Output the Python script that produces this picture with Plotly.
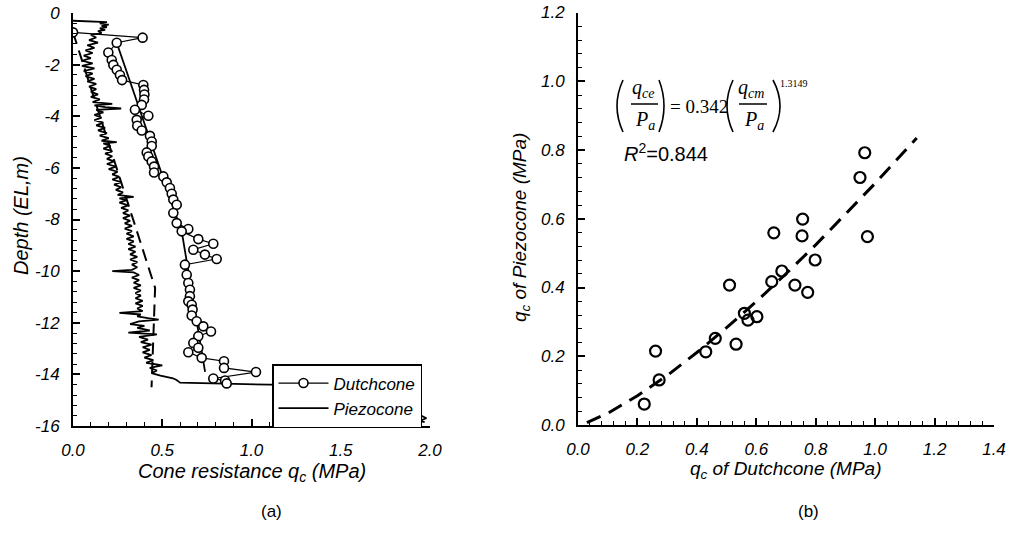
import plotly.graph_objects as go

W, H = 1011, 534

# ---------------- data: panel (a) ----------------
dutch_q = [0.00, 0.39, 0.245, 0.198, 0.217, 0.226, 0.245, 0.263, 0.275, 0.394, 0.398, 0.40, 0.398, 0.385,
           0.347, 0.422, 0.357, 0.36, 0.385, 0.431, 0.441, 0.441, 0.413, 0.422, 0.441, 0.454, 0.454, 0.506,
           0.525, 0.543, 0.553, 0.562, 0.581, 0.562, 0.581, 0.646, 0.609, 0.702, 0.786, 0.674, 0.739, 0.805,
           0.627, 0.637, 0.646, 0.655, 0.655, 0.646, 0.665, 0.67, 0.665, 0.693, 0.73, 0.773, 0.702, 0.674,
           0.702, 0.646, 0.721, 0.846, 0.846, 1.025, 0.786, 0.852, 0.861]
dutch_depth = [-0.75, -0.955, -1.15, -1.53, -1.82, -2.01, -2.2, -2.4, -2.6, -2.79, -2.98, -3.16, -3.35, -3.56,
               -3.75, -3.98, -4.14, -4.37, -4.55, -4.76, -4.98, -5.15, -5.40, -5.56, -5.75, -5.95, -6.18, -6.33,
               -6.56, -6.78, -7.0, -7.23, -7.43, -7.75, -8.14, -8.37, -8.46, -8.76, -8.94, -9.17, -9.36, -9.53,
               -9.75, -10.14, -10.46, -10.72, -10.97, -11.17, -11.3, -11.49, -11.72, -11.94, -12.14, -12.34, -12.52, -12.78,
               -12.97, -13.14, -13.36, -13.49, -13.75, -13.91, -14.16, -14.24, -14.35]

piezo_depth = [-0.30, -0.35, -0.40, -0.45, -0.50, -0.55, -0.60, -0.65, -0.70, -0.78, -0.85, -0.95, -1.05, -1.15,
               -1.25, -1.35, -1.45, -1.55, -1.65, -1.75, -1.85, -1.95, -2.05, -2.15, -2.25, -2.35, -2.45, -2.55,
               -2.65, -2.75, -2.85, -2.95, -3.05, -3.15, -3.25, -3.35, -3.45, -3.52, -3.58, -3.65, -3.70, -3.75,
               -3.85, -3.95, -4.05, -4.15, -4.25, -4.35, -4.45, -4.55, -4.65, -4.75, -4.85, -4.95, -5.00, -5.05,
               -5.15, -5.25, -5.35, -5.45, -5.55, -5.65, -5.75, -5.85, -5.95, -6.05, -6.15, -6.25, -6.35, -6.45,
               -6.55, -6.65, -6.75, -6.85, -6.95, -7.05, -7.12, -7.18, -7.25, -7.35, -7.45, -7.55, -7.65, -7.75,
               -7.85, -7.95, -8.05, -8.15, -8.25, -8.35, -8.45, -8.55, -8.65, -8.75, -8.85, -8.95, -9.05, -9.15,
               -9.25, -9.35, -9.45, -9.55, -9.65, -9.75, -9.85, -9.95, -10.00, -10.05, -10.15, -10.25, -10.35,
               -10.45, -10.55, -10.65, -10.75, -10.85, -10.95, -11.05, -11.15, -11.25, -11.35, -11.45, -11.55,
               -11.62, -11.68, -11.75, -11.82, -11.88, -11.95, -12.05, -12.12, -12.20, -12.30, -12.38, -12.45,
               -12.55, -12.65, -12.75, -12.85, -12.95, -13.05, -13.15, -13.25, -13.35, -13.45, -13.55, -13.65,
               -13.75, -13.85, -13.95, -14.05, -14.15, -14.22, -14.32, -14.40, -14.45, -15.00, -15.60, -15.70,
               -15.80, -15.85]
piezo_q = [0.00, 0.19, 0.15, 0.20, 0.16, 0.19, 0.15, 0.18, 0.14, 0.16, 0.10, 0.13, 0.09, 0.14,
           0.08, 0.12, 0.07, 0.11, 0.06, 0.10, 0.05, 0.11, 0.05, 0.12, 0.06, 0.11, 0.07, 0.12,
           0.08, 0.13, 0.09, 0.13, 0.10, 0.14, 0.10, 0.15, 0.11, 0.22, 0.12, 0.18, 0.27, 0.13,
           0.17, 0.12, 0.16, 0.12, 0.17, 0.13, 0.18, 0.14, 0.19, 0.15, 0.20, 0.16, 0.245, 0.17,
           0.21, 0.17, 0.22, 0.18, 0.22, 0.19, 0.23, 0.19, 0.24, 0.20, 0.25, 0.22, 0.26, 0.22,
           0.27, 0.23, 0.27, 0.24, 0.28, 0.25, 0.34, 0.26, 0.30, 0.26, 0.31, 0.27, 0.31, 0.28,
           0.32, 0.28, 0.32, 0.29, 0.33, 0.29, 0.33, 0.30, 0.34, 0.30, 0.34, 0.31, 0.35, 0.31,
           0.35, 0.32, 0.36, 0.32, 0.36, 0.33, 0.36, 0.33, 0.22, 0.34, 0.37, 0.33, 0.37,
           0.34, 0.38, 0.34, 0.38, 0.35, 0.38, 0.35, 0.39, 0.35, 0.39, 0.36, 0.39,
           0.26, 0.38, 0.36, 0.42, 0.48, 0.37, 0.32, 0.40, 0.36, 0.43, 0.31, 0.47,
           0.37, 0.42, 0.38, 0.44, 0.39, 0.43, 0.39, 0.44, 0.40, 0.45, 0.41, 0.50,
           0.43, 0.47, 0.44, 0.49, 0.56, 0.58, 0.60, 1.10, 1.90, 1.92, 1.95, 1.98,
           1.94, 1.97]

piezo_trend_q = [0.00, 0.46, 0.44]
piezo_trend_depth = [-0.75, -10.65, -14.5]
dutch_trend_q = [0.245, 0.61, 0.74]
dutch_trend_depth = [-1.15, -8.5, -13.9]

a_xticks = [0.0, 0.5, 1.0, 1.5, 2.0]
a_xticklabels = ["0.0", "0.5", "1.0", "1.5", "2.0"]
a_yticks = [0, -2, -4, -6, -8, -10, -12, -14, -16]
a_yticklabels = ["0", "-2", "-4", "-6", "-8", "-10", "-12", "-14", "-16"]

# ---------------- data: panel (b) ----------------
qc_dutch = [0.223, 0.261, 0.273, 0.430, 0.462, 0.510, 0.532, 0.560, 0.572, 0.602, 0.652,
            0.659, 0.686, 0.730, 0.754, 0.756, 0.773, 0.798, 0.949, 0.965, 0.974]
qc_piezo = [0.061, 0.215, 0.131, 0.213, 0.252, 0.407, 0.235, 0.325, 0.305, 0.315, 0.417,
            0.559, 0.448, 0.407, 0.550, 0.599, 0.386, 0.480, 0.720, 0.792, 0.548]
fit_x = [0.03, 0.10, 0.20, 0.30, 0.40, 0.50, 0.60, 0.70, 0.80, 0.90, 1.00, 1.14]
fit_y = [0.007, 0.034, 0.085, 0.144, 0.211, 0.283, 0.359, 0.440, 0.524, 0.612, 0.703, 0.835]

b_xticks = [0.0, 0.2, 0.4, 0.6, 0.8, 1.0, 1.2, 1.4]
b_xticklabels = ["0.0", "0.2", "0.4", "0.6", "0.8", "1.0", "1.2", "1.4"]
b_yticks = [0.0, 0.2, 0.4, 0.6, 0.8, 1.0, 1.2]
b_yticklabels = ["0.0", "0.2", "0.4", "0.6", "0.8", "1.0", "1.2"]

SANS = "Liberation Sans, Arial, sans-serif"
SERIF = "Liberation Serif, Times New Roman, serif"

def px(x, y):
    return x / W, 1 - y / H

fig = go.Figure()

# panel (a)
fig.add_trace(go.Scatter(x=piezo_trend_q, y=piezo_trend_depth, mode="lines",
                         line=dict(color="black", width=2, dash="12px,7px"),
                         showlegend=False, xaxis="x", yaxis="y"))
fig.add_trace(go.Scatter(x=piezo_q, y=piezo_depth, mode="lines", name="Piezocone",
                         line=dict(color="black", width=1.8), legendrank=2,
                         xaxis="x", yaxis="y"))
fig.add_trace(go.Scatter(x=dutch_trend_q, y=dutch_trend_depth, mode="lines",
                         line=dict(color="black", width=1.8), showlegend=False,
                         xaxis="x", yaxis="y"))
fig.add_trace(go.Scatter(x=dutch_q, y=dutch_depth, mode="lines+markers", name="Dutchcone",
                         line=dict(color="black", width=1.2),
                         marker=dict(symbol="circle", size=9, color="white",
                                     line=dict(color="black", width=1.6)),
                         legendrank=1, xaxis="x", yaxis="y"))

# panel (b)
fig.add_trace(go.Scatter(x=fit_x, y=fit_y, mode="lines", line=dict(color="black", width=3, dash="15px,9px"),
                         showlegend=False, xaxis="x2", yaxis="y2"))
fig.add_trace(go.Scatter(x=qc_dutch, y=qc_piezo, mode="markers",
                         marker=dict(symbol="circle-open", size=11, color="black",
                                     line=dict(color="black", width=2.2)),
                         showlegend=False, xaxis="x2", yaxis="y2"))

tickfont = dict(family=SANS, size=17, color="black", style="italic")
axis_common = dict(showline=True, linecolor="black", linewidth=2, ticks="inside", tickcolor="black",
                   tickwidth=1.5, ticklen=7, showgrid=False, zeroline=False, tickfont=tickfont,
                   ticklabelstandoff=8, automargin=False, mirror=False)

fig.update_layout(
    template="none",
    width=W, height=H, margin=dict(l=0, r=0, t=0, b=0, pad=0),
    paper_bgcolor="white", plot_bgcolor="white",
    font=dict(family=SANS, color="black"),
    xaxis=dict(domain=[73 / W, 430 / W], range=[0, 2], anchor="y", tickvals=a_xticks, ticktext=a_xticklabels,
               minor=dict(dtick=0.1, tick0=0, ticks="inside", ticklen=4, tickcolor="black", tickwidth=1),
               **axis_common),
    yaxis=dict(domain=[1 - 426 / H, 1 - 13 / H], range=[-16, 0], anchor="x", tickvals=a_yticks, ticktext=a_yticklabels,
               minor=dict(dtick=0.4, tick0=0, ticks="inside", ticklen=4, tickcolor="black", tickwidth=1),
               **axis_common),
    xaxis2=dict(domain=[578 / W, 994 / W], range=[0, 1.4], anchor="y2", tickvals=b_xticks, ticktext=b_xticklabels,
                minor=dict(dtick=0.04, tick0=0, ticks="inside", ticklen=4, tickcolor="black", tickwidth=1),
                **axis_common),
    yaxis2=dict(domain=[1 - 425 / H, 1 - 12.5 / H], range=[0, 1.2], anchor="x2", tickvals=b_yticks, ticktext=b_yticklabels,
                minor=dict(dtick=0.04, tick0=0, ticks="inside", ticklen=4, tickcolor="black", tickwidth=1),
                **axis_common),
    legend=dict(x=272 / W, y=1 - 364 / H, xanchor="left", yanchor="top", bgcolor="white",
                bordercolor="black", borderwidth=1.5, tracegroupgap=0, itemwidth=50,
                font=dict(family=SANS, size=17, color="black", style="italic")),
    showlegend=True,
)

def ann(text, x, y, size=18, family=SANS, italic=False, angle=0, xanchor="center", yanchor="middle"):
    ax, ay = px(x, y)
    fig.add_annotation(text=text, x=ax, y=ay, xref="paper", yref="paper", showarrow=False,
                       xanchor=xanchor, yanchor=yanchor, textangle=angle,
                       font=dict(family=family, size=size, color="black",
                                 style="italic" if italic else "normal"))

# axis titles
ann("Cone resistance q<sub>c</sub> (MPa)", 252, 472, size=20, italic=True)
ann("Depth (EL,m)", 21, 216, size=20, italic=True, angle=-90)
ann("q<sub>c</sub> of Dutchcone (MPa)", 785, 470, size=19, italic=True)
ann("q<sub>c</sub> of Piezocone (MPa)", 521, 228, size=19, italic=True, angle=-90)
ann("(a)", 271, 511, size=17)
ann("(b)", 808, 511, size=17)

# equation (fractions built from text + drawn bars / brackets)
ann("q<sub>ce</sub>", 643, 89, size=20, family=SERIF, italic=True)
ann("P<sub>a</sub>", 645, 120, size=20, family=SERIF, italic=True)
ann("= 0.342", 699, 106, size=19, family=SERIF)
ann("q<sub>cm</sub>", 751, 89, size=20, family=SERIF, italic=True)
ann("P<sub>a</sub>", 754, 120, size=20, family=SERIF, italic=True)
ann("1.3149", 794, 84, size=10, family=SERIF)
ann("<i>R</i><sup>2</sup>=0.844", 622, 153, size=20, xanchor="left")

def pline(x0, y0, x1, y1):
    a0, b0 = px(x0, y0)
    a1, b1 = px(x1, y1)
    fig.add_shape(type="line", xref="paper", yref="paper", x0=a0, x1=a1, y0=b0, y1=b1,
                  line=dict(color="black", width=1.5))

def bracket(xe, xc, ytop=80, ybot=132):
    a0, b0 = px(xe, ytop)
    ac, bc = px(xc, (ytop + ybot) / 2)
    a1, b1 = px(xe, ybot)
    fig.add_shape(type="path", xref="paper", yref="paper",
                  path=f"M {a0} {b0} Q {ac} {bc} {a1} {b1}",
                  line=dict(color="black", width=1.6))

pline(631, 104, 658, 104)
pline(739, 104, 767, 104)
bracket(623, 611)
bracket(659, 669)
bracket(733, 721)
bracket(773, 787)

fig.write_html("out.html")
